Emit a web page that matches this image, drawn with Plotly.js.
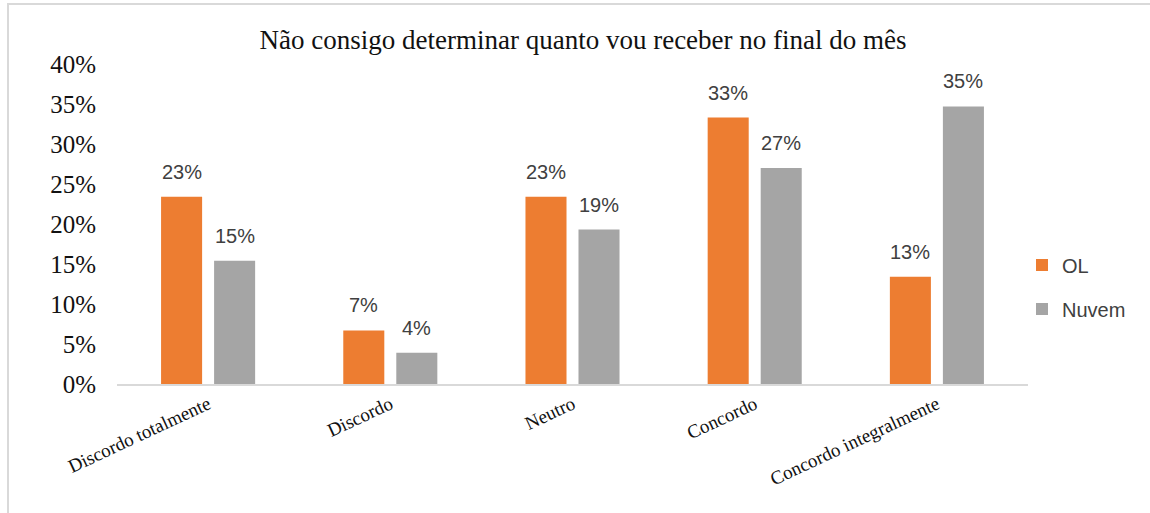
<!DOCTYPE html>
<html>
<head>
<meta charset="utf-8">
<script src="https://cdn.plot.ly/plotly-3.0.1.min.js"></script>
<style>
  html, body { margin: 0; padding: 0; background: #fff; }
  #chart { width: 1150px; height: 513px; }
</style>
</head>
<body>
<div id="chart"></div>
<script>
const categories = ["Discordo totalmente", "Discordo", "Neutro", "Concordo", "Concordo integralmente"];
const seriesNames = ["OL", "Nuvem"];
const olValues = [23.4, 6.7, 23.4, 33.3, 13.4];
const nuvemValues = [15.4, 3.9, 19.3, 27.0, 34.7];
const yTickValues = [0, 5, 10, 15, 20, 25, 30, 35, 40];
const yTickLabels = ["0%", "5%", "10%", "15%", "20%", "25%", "30%", "35%", "40%"];
const chartTitle = "Não consigo determinar quanto vou receber no final do mês";

const colors = ["#ED7D31", "#A5A5A5"];
const allSeries = [olValues, nuvemValues];

const traces = allSeries.map((vals, i) => ({
  type: "bar",
  name: seriesNames[i],
  x: categories,
  y: vals,
  marker: { color: colors[i] },
  legendgroup: "g" + i,
  hoverinfo: "skip"
}));

const annotations = [];
allSeries.forEach((vals, i) => {
  vals.forEach((v, j) => {
    annotations.push({
      x: categories[j], y: v, xref: "x", yref: "y",
      text: Math.round(v) + "%",
      showarrow: false,
      xshift: i === 0 ? -26.5 : 26.5,
      yshift: 25,
      font: { family: "Liberation Sans, Arial, sans-serif", size: 20, color: "#404040" }
    });
  });
});

const layout = {
  width: 1150, height: 513,
  margin: { l: 117, r: 122, t: 64, b: 129 },
  paper_bgcolor: "#fff", plot_bgcolor: "#fff",
  title: {
    text: chartTitle,
    font: { family: "Liberation Serif, Times New Roman, serif", size: 27, color: "#111" },
    x: 0.507, xref: "container", xanchor: "center",
    y: 1 - 40 / 513, yref: "container", yanchor: "middle"
  },
  barmode: "group",
  bargap: 0.418,
  bargroupgap: 0.226,
  xaxis: {
    type: "category",
    tickangle: -25,
    tickfont: { family: "Liberation Serif, Times New Roman, serif", size: 19, color: "#111" },
    showline: true, linecolor: "#d9d9d9", linewidth: 2,
    ticks: "", showgrid: false, zeroline: false
  },
  yaxis: {
    range: [0, 40],
    tickvals: yTickValues, ticktext: yTickLabels,
    tickfont: { family: "Liberation Serif, Times New Roman, serif", size: 25, color: "#111" },
    showgrid: false, zeroline: false, showline: false,
    ticks: "", ticklabelstandoff: 20
  },
  showlegend: true,
  legend: {
    x: (1022 - 117) / 911, xanchor: "left", y: (384 - 287) / 320, yanchor: "middle",
    font: { family: "Liberation Sans, Arial, sans-serif", size: 20, color: "#404040" },
    tracegroupgap: 15, traceorder: "grouped",
    itemclick: false
  },
  annotations: annotations,
  shapes: [{
    type: "rect", xref: "paper", yref: "paper",
    x0: (8 - 117) / 911, x1: 1.5, y0: -1, y1: (384 - 4) / 320,
    line: { color: "#d9d9d9", width: 2 }, fillcolor: "rgba(0,0,0,0)", layer: "below"
  }]
};

Plotly.newPlot("chart", traces, layout, { displayModeBar: false, staticPlot: true });
</script>
</body>
</html>
